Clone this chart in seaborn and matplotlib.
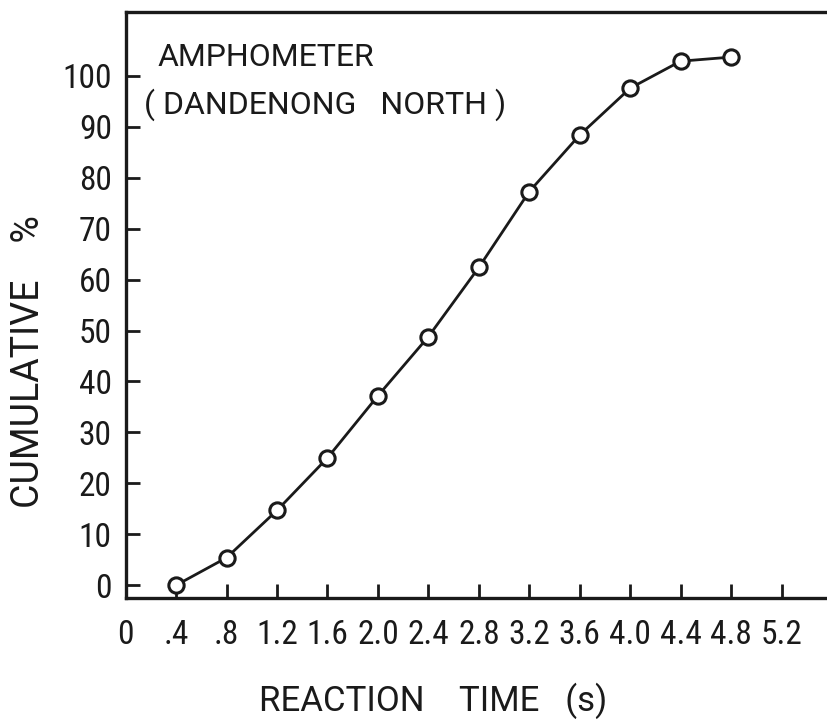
import matplotlib
matplotlib.use("Agg")
import matplotlib.pyplot as plt
import seaborn as sns
import pandas as pd

reaction_time = [0.4, 0.8, 1.2, 1.6, 2.0, 2.4, 2.8, 3.2, 3.6, 4.0, 4.4, 4.8]
cumulative = [0, 5.4, 14.7, 25.0, 37.2, 48.8, 62.4, 77.3, 88.4, 97.6, 102.9, 103.7]
x_ticks = [0, 0.4, 0.8, 1.2, 1.6, 2.0, 2.4, 2.8, 3.2, 3.6, 4.0, 4.4, 4.8, 5.2]
x_tick_labels = ["0", ".4", ".8", "1.2", "1.6", "2.0", "2.4", "2.8", "3.2", "3.6", "4.0", "4.4", "4.8", "5.2"]
y_ticks = [0, 10, 20, 30, 40, 50, 60, 70, 80, 90, 100]

data = pd.DataFrame({"time": reaction_time, "cum": cumulative})

sns.set_style("ticks")
plt.rcParams['font.family'] = ['Roboto Condensed', 'DejaVu Sans']
label_font = ['Roboto', 'DejaVu Sans']

ink = "#1a1a1a"

fig = plt.figure(figsize=(8.27, 7.23), dpi=100)
ax = fig.add_axes([0.152, 0.173, 0.854, 0.810])

sns.lineplot(data=data, x="time", y="cum", ax=ax, color=ink, linewidth=2.0,
             marker="o", markersize=11, markerfacecolor="white",
             markeredgecolor=ink, markeredgewidth=2.2)

ax.set_xlim(0, 5.6)
ax.set_ylim(-2.5, 112.5)
ax.set_xticks(x_ticks)
ax.set_xticklabels(x_tick_labels)
ax.set_yticks(y_ticks)

for side in ["top", "right", "left", "bottom"]:
    ax.spines[side].set_linewidth(2.4)
    ax.spines[side].set_color(ink)
ax.tick_params(direction="in", length=10, width=2.0, color=ink,
               labelsize=24, labelcolor=ink)
ax.tick_params(axis="x", top=False, pad=15)
ax.tick_params(axis="y", right=False, pad=10)

ax.set_xlabel("REACTION    TIME   (s)", fontsize=25, color=ink, va="center",
              family=label_font)
ax.set_ylabel("CUMULATIVE    %", fontsize=27, color=ink, va="center",
              family=label_font)
ax.xaxis.set_label_coords(0.435, -0.176)
ax.yaxis.set_label_coords(-0.138, 0.403)

ax.text(0.045, 0.923, "AMPHOMETER", transform=ax.transAxes, fontsize=23,
        color=ink, va="center", ha="left", family=label_font)
ax.text(0.026, 0.843, "( DANDENONG   NORTH )", transform=ax.transAxes, fontsize=23,
        color=ink, va="center", ha="left", family=label_font)

plt.savefig("out.png", dpi=100)
